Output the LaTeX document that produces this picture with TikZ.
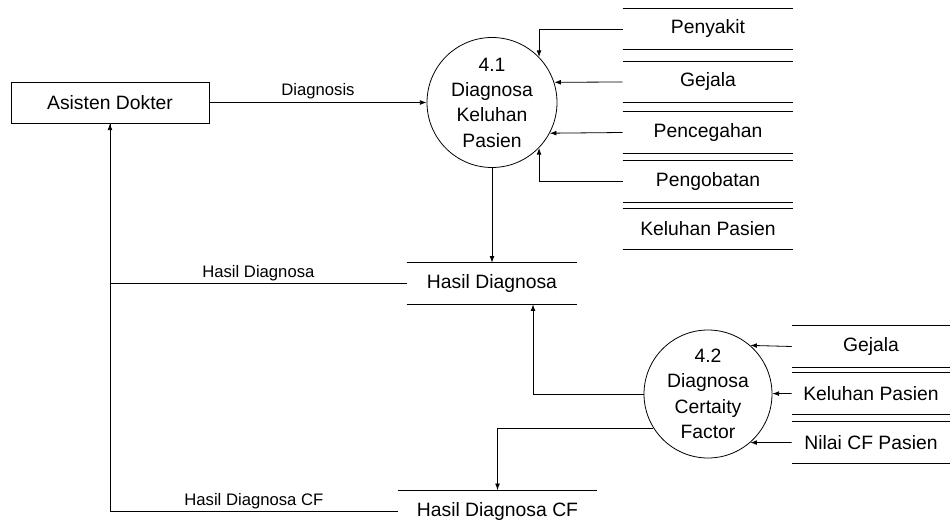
\documentclass[tikz,border=0pt]{standalone}
\usepackage{fontspec}
\setmainfont{Liberation Sans}
\usetikzlibrary{arrows.meta}
\begin{document}
\begin{tikzpicture}[x=0.75pt,y=-0.75pt,
  every node/.style={font=\fontsize{14.5}{19}\selectfont},
  flow/.style={line width=0.6pt,-{Latex[length=5pt,width=3.6pt]}},
  line/.style={line width=0.6pt},
  lbl/.style={font=\fontsize{12.5}{15}\selectfont,inner sep=1.5pt},
  proc/.style={draw,circle,line width=0.6pt,align=center,inner sep=0pt},
  store/.style={minimum height=30.75pt,inner sep=0pt},
  ext/.style={draw,line width=0.6pt,minimum width=148.5pt,minimum height=30.75pt,inner sep=0pt}]
\useasboundingbox (0,0) rectangle (952,527);

% external entity
\node[ext] (ad) at (110,102.5) {Asisten Dokter};

% processes
\node[proc,minimum size=97.5pt] (p1) at (492,102.5) {4.1\\Diagnosa\\Keluhan\\Pasien};
\node[proc,minimum size=96pt] (p2) at (708,394) {4.2\\Diagnosa\\Certaity\\Factor};

% data stores group 1
\node[store,minimum width=127.5pt] (s1) at (708,29) {Penyakit};
\node[store,minimum width=127.5pt] (s2) at (708,82) {Gejala};
\node[store,minimum width=127.5pt] (s3) at (708,132.5) {Pencegahan};
\node[store,minimum width=127.5pt] (s4) at (708,181.5) {Pengobatan};
\node[store,minimum width=127.5pt] (s5) at (708,229) {Keluhan Pasien};
\node[store,minimum width=127.5pt] (hd) at (492,283.5) {Hasil Diagnosa};
% data stores group 2
\node[store,minimum width=118.5pt] (t1) at (871,346.5) {Gejala};
\node[store,minimum width=118.5pt] (t2) at (871,393.5) {Keluhan Pasien};
\node[store,minimum width=118.5pt] (t3) at (871,442.5) {Nilai CF Pasien};
\node[store,minimum width=149.25pt] (hc) at (497.5,511) {Hasil Diagnosa CF};

\foreach \s in {s1,s2,s3,s4,s5,hd,t1,t2,t3}{
  \draw[line] (\s.north west) -- (\s.north east);
  \draw[line] (\s.south west) -- (\s.south east);
}
\draw[line] (hc.north west) -- (hc.north east);

% flows
\draw[flow] (ad) -- node[lbl,above=1pt] {Diagnosis} (p1);
\draw[flow] (s1.west) -| (p1.44);
\draw[flow] (s2.west) -- (p1.18);
\draw[flow] (s3.west) -- (p1.-28);
\draw[flow] (s4.west) -| (p1.-44);
\draw[flow] (p1) -- (hd);
\draw[flow] (hd.west) -| node[lbl,above,pos=0.25] {Hasil Diagnosa} (ad.south);
\draw[flow] (p2.west) -| ([xshift=30.75pt]hd.south);
\draw[flow] (t1.west) -- (p2.49);
\draw[flow] (t2.west) -- (p2);
\draw[flow] (t3.west) -- (p2.-49);
\draw[flow] (p2.-148) -| (hc.north);
\draw[line] (hc.west) -| node[lbl,above,pos=0.25] {Hasil Diagnosa CF} (ad.south);
\end{tikzpicture}
\end{document}
